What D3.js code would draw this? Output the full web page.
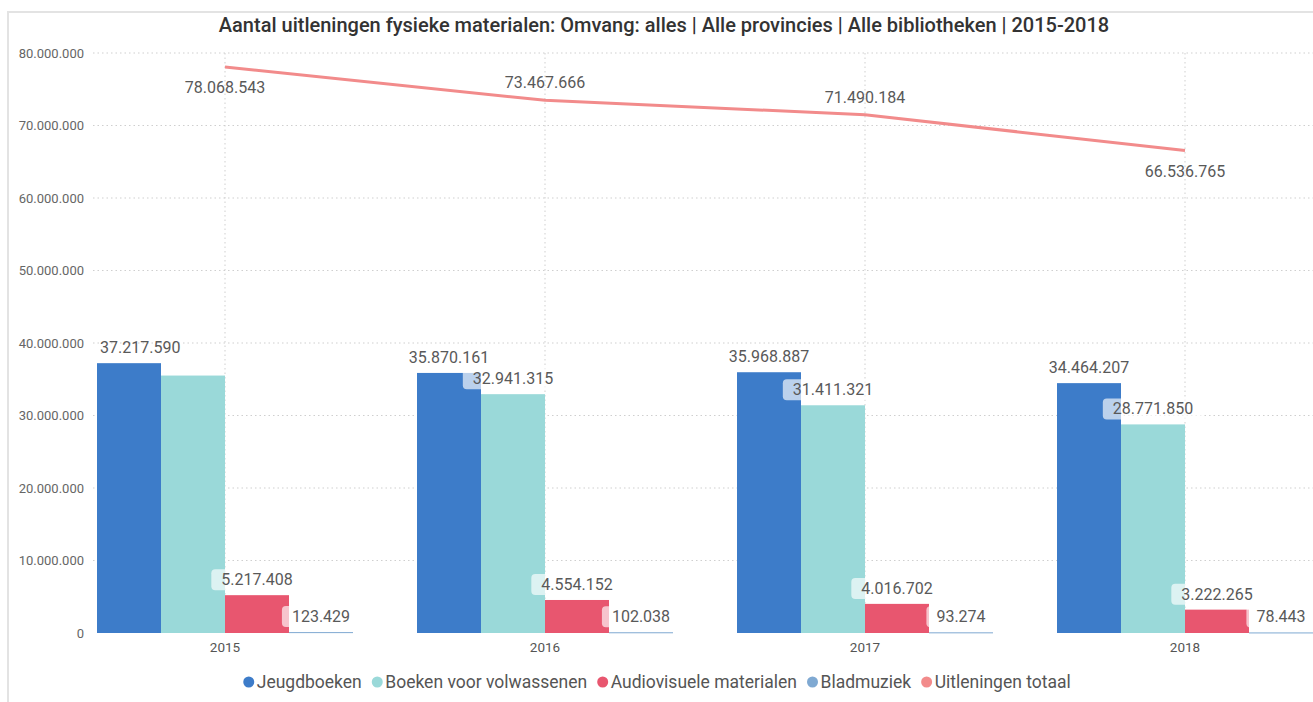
<!DOCTYPE html>
<html>
<head>
<meta charset="utf-8">
<script src="https://cdn.jsdelivr.net/npm/d3@7"></script>
<style>
  html, body { margin: 0; padding: 0; background: #fff; }
  svg { display: block; font-family: Roboto, "DejaVu Sans", sans-serif; }
</style>
</head>
<body>
<svg id="chart"></svg>
<script>
// Values
const years = ['2015', '2016', '2017', '2018'];
const seriesNames = ['Jeugdboeken', 'Boeken voor volwassenen', 'Audiovisuele materialen', 'Bladmuziek'];
const jeugdboeken = [37217590, 35870161, 35968887, 34464207];
const volwassenen = [35510116, 32941315, 31411321, 28771850];
const audiovisueel = [5217408, 4554152, 4016702, 3222265];
const bladmuziek = [123429, 102038, 93274, 78443];
const totaal = [78068543, 73467666, 71490184, 66536765];
const yTicks = [0, 10000000, 20000000, 30000000, 40000000, 50000000, 60000000, 70000000, 80000000];
const lineName = 'Uitleningen totaal';
const title = 'Aantal uitleningen fysieke materialen: Omvang: alles | Alle provincies | Alle bibliotheken | 2015-2018';

const W = 1313, H = 702;
const colors = ['#3D7CC9', '#9AD9D9', '#E8566F', '#7FA9D2'];
const lineColor = '#F28B8B';

const fmt = d3.formatLocale({ decimal: ',', thousands: '.', grouping: [3], currency: ['€', ''] }).format(',d');

const svg = d3.select('#chart').attr('width', W).attr('height', H);

// panel frame
svg.append('path')
  .attr('d', `M8,${H} V12 H${W}`)
  .attr('fill', 'none').attr('stroke', '#e3e3e3').attr('stroke-width', 2);

svg.append('text')
  .attr('x', 664).attr('y', 32)
  .attr('text-anchor', 'middle')
  .attr('font-size', 20).attr('font-weight', 500).attr('fill', '#333')
  .text(title);

const x = d3.scaleBand().domain(years).range([65, 1345]);
const x1 = d3.scaleBand().domain(seriesNames).range([32, x.bandwidth() - 32]);
const y = d3.scaleLinear().domain([0, 80000000]).range([633, 53]);

// gridlines
const grid = svg.append('g').attr('stroke', '#cfcfcf').attr('stroke-dasharray', '1.5,3');
grid.selectAll('.h').data(yTicks.slice(1)).join('line')
  .attr('x1', 93).attr('x2', W)
  .attr('y1', d => y(d)).attr('y2', d => y(d));
grid.selectAll('.v').data(years).join('line')
  .attr('x1', d => x(d) + x.bandwidth() / 2).attr('x2', d => x(d) + x.bandwidth() / 2)
  .attr('y1', y(80000000)).attr('y2', y(0));

// y axis
const yAxis = svg.append('g').attr('transform', 'translate(84,0)')
  .call(d3.axisLeft(y).tickValues(yTicks).tickFormat(fmt).tickSize(0).tickPadding(0));
yAxis.select('.domain').remove();
yAxis.selectAll('text').attr('font-size', 13).attr('fill', '#666').attr('font-family', 'Roboto');

// x axis
const xAxis = svg.append('g').attr('transform', 'translate(0,638)')
  .call(d3.axisBottom(x).tickSize(0).tickPadding(4));
xAxis.select('.domain').remove();
xAxis.selectAll('text').attr('font-size', 13.5).attr('fill', '#555').attr('font-family', 'Roboto');

// bars
const seriesValues = [jeugdboeken, volwassenen, audiovisueel, bladmuziek];
const barData = [];
years.forEach((yr, i) => {
  seriesNames.forEach((s, j) => {
    barData.push({ year: yr, series: s, idx: j, value: seriesValues[j][i] });
  });
});

svg.append('g').selectAll('rect').data(barData).join('rect')
  .attr('x', d => x(d.year) + x1(d.series))
  .attr('width', x1.bandwidth())
  .attr('y', d => y(d.value))
  .attr('height', d => Math.max(1, y(0) - y(d.value)))
  .attr('fill', d => colors[d.idx]);

// total line
const line = d3.line()
  .x((d, i) => x(years[i]) + x.bandwidth() / 2)
  .y(d => y(d));
svg.append('path').datum(totaal)
  .attr('d', line)
  .attr('fill', 'none')
  .attr('stroke', lineColor)
  .attr('stroke-width', 3);

// bar labels with collision hiding, kept clear of the y-axis labels
const labelLayer = svg.append('g');
const placed = [];
const minLeft = 100;
function overlaps(a) {
  return placed.some(b => a.x0 < b.x1 && a.x1 > b.x0 && a.y0 < b.y1 - 1 && a.y1 > b.y0 + 1);
}
barData.forEach(d => {
  let cx = x(d.year) + x1(d.series) + x1.bandwidth() / 2;
  const base = y(d.value) - 10;
  const g = labelLayer.append('g');
  const rect = g.append('rect');
  const t = g.append('text')
    .attr('text-anchor', 'middle')
    .attr('font-size', 16).attr('fill', '#595959')
    .text(fmt(d.value));
  const w = t.node().getComputedTextLength();
  if (cx - w / 2 < minLeft) cx = minLeft + w / 2;
  t.attr('x', cx).attr('y', base);
  const box = { x0: cx - w / 2 - 10, x1: cx + w / 2 + 10, y0: base - 16, y1: base + 5 };
  if (overlaps(box)) { g.remove(); return; }
  placed.push(box);
  rect.attr('x', box.x0).attr('y', box.y0)
    .attr('width', box.x1 - box.x0).attr('height', box.y1 - box.y0)
    .attr('rx', 4).attr('fill', '#fff').attr('fill-opacity', d.idx === 0 ? 0 : 0.65);
});

// line labels: endpoints below, interior points above
svg.append('g').selectAll('text').data(totaal).join('text')
  .attr('x', (d, i) => x(years[i]) + x.bandwidth() / 2)
  .attr('y', (d, i) => (i === 0 || i === totaal.length - 1) ? y(d) + 26 : y(d) - 12)
  .attr('text-anchor', 'middle')
  .attr('font-size', 16).attr('fill', '#595959')
  .text(d => fmt(d));

// legend
const legendItems = seriesNames.map((s, i) => ({ name: s, color: colors[i] }))
  .concat([{ name: lineName, color: lineColor }]);
const legend = svg.append('g').attr('transform', 'translate(0,682)');
let lx = 0;
const items = legend.selectAll('g').data(legendItems).join('g');
items.append('circle').attr('r', 5.5).attr('cy', 0).attr('fill', d => d.color);
items.append('text')
  .attr('x', 8).attr('dy', '0.35em')
  .attr('font-size', 17.5).attr('fill', '#555')
  .text(d => d.name);
items.each(function () {
  const g = d3.select(this);
  g.attr('transform', `translate(${lx + 5.5},0)`);
  lx += 5.5 + 8 + g.select('text').node().getComputedTextLength() + 10;
});
legend.attr('transform', `translate(${662 - lx / 2},682)`);
</script>
</body>
</html>
